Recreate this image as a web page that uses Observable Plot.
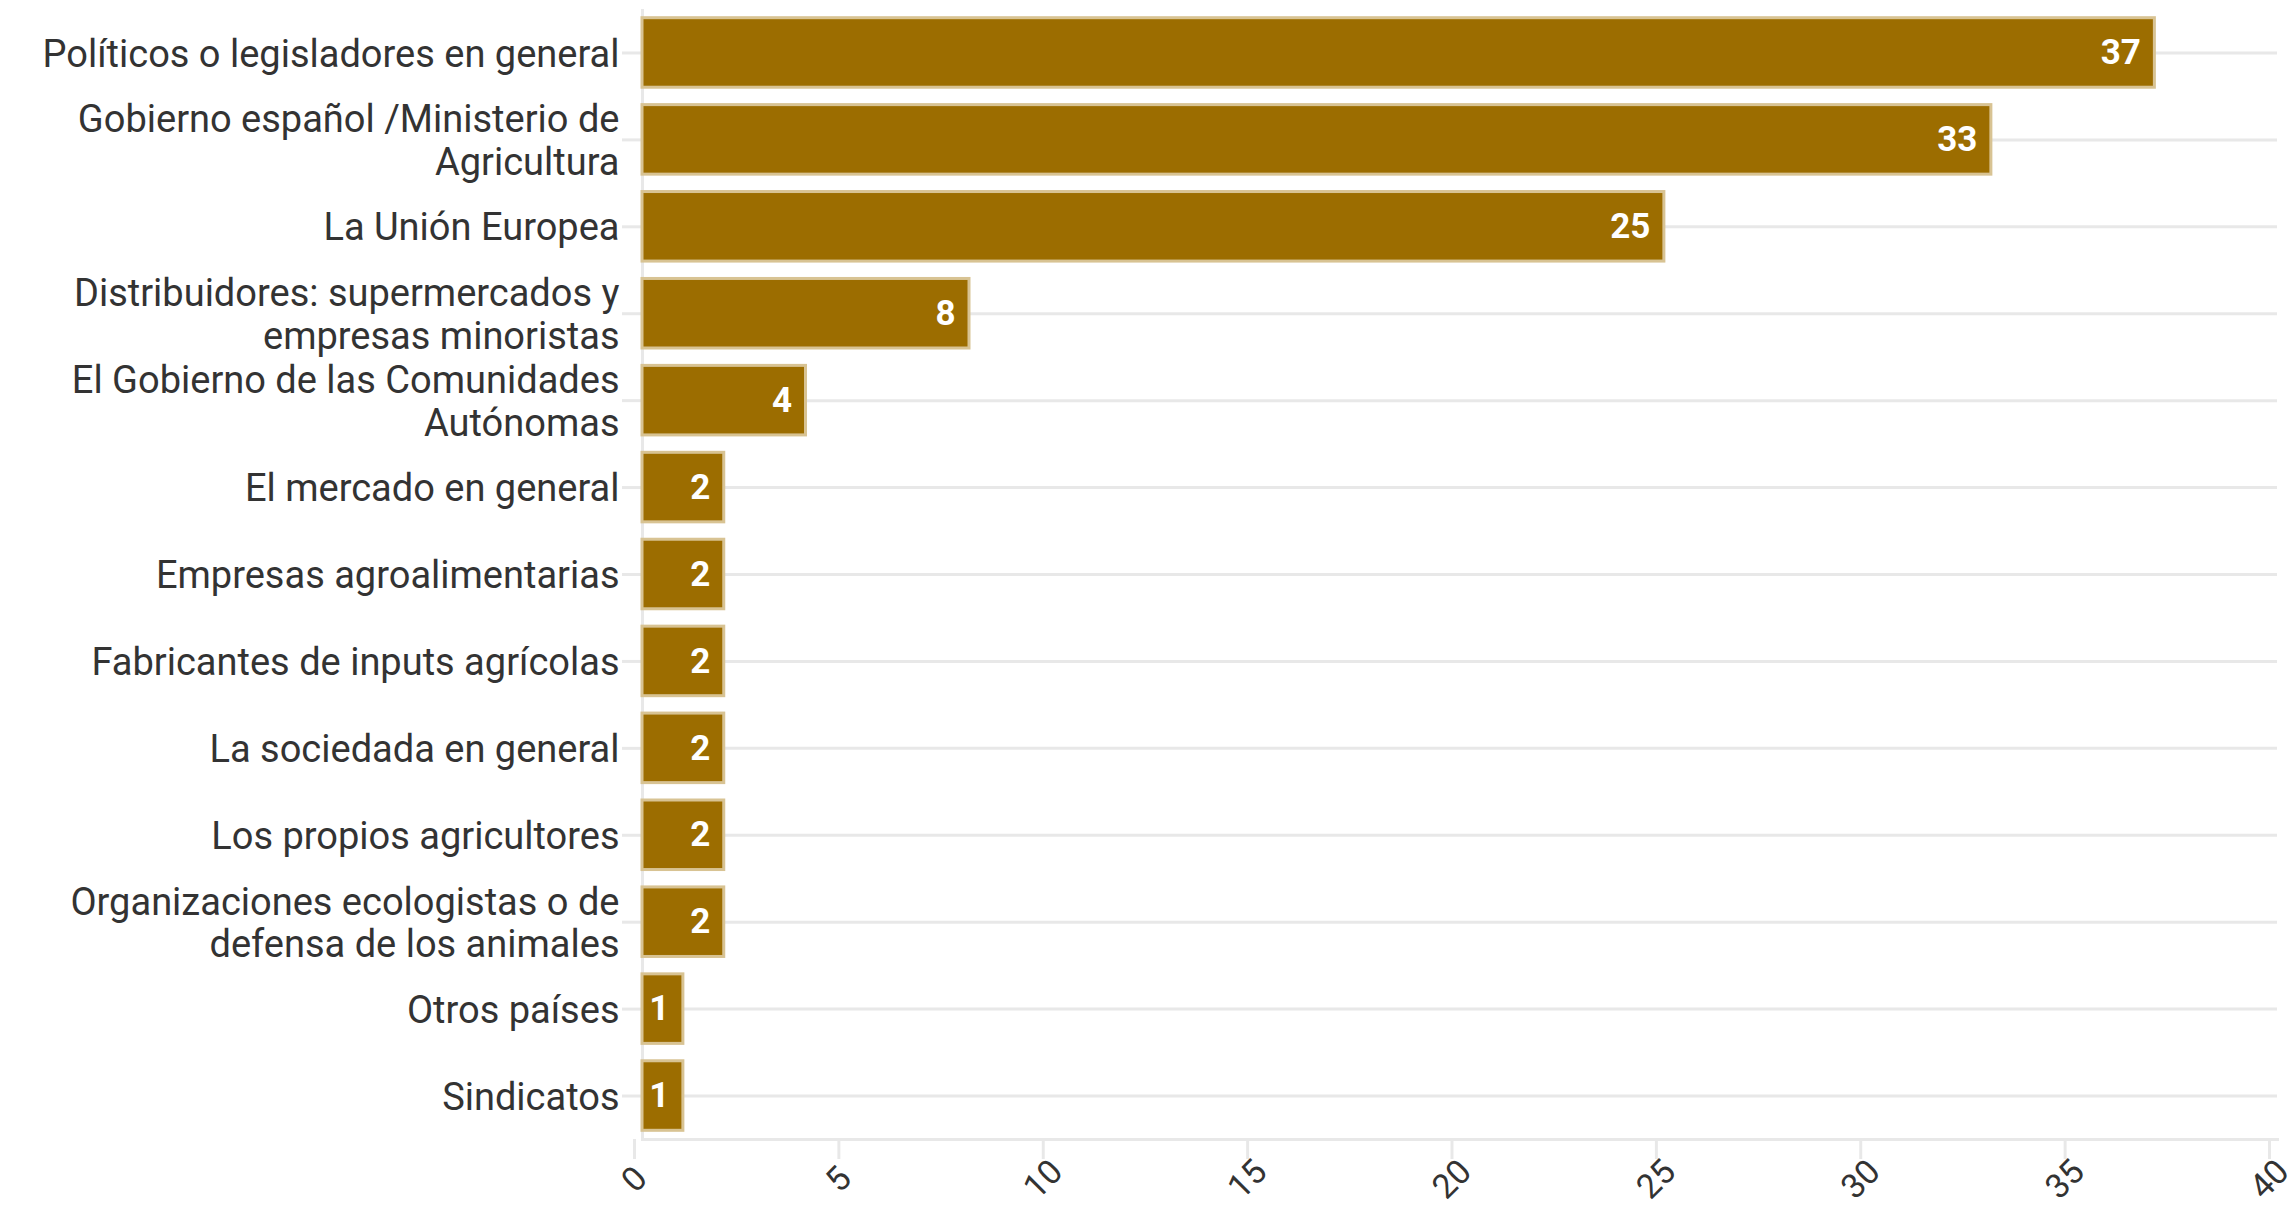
<!DOCTYPE html>
<html><head><meta charset="utf-8">
<script src="https://cdn.jsdelivr.net/npm/d3@7"></script>
<script src="https://cdn.jsdelivr.net/npm/@observablehq/plot@0.6"></script>
<style>
html,body{margin:0;padding:0;background:#fff;}
</style></head><body><div id="chart"></div>
<script>
const categories = [
  "Políticos o legisladores en general",
  "Gobierno español /Ministerio de\nAgricultura",
  "La Unión Europea",
  "Distribuidores: supermercados y\nempresas minoristas",
  "El Gobierno de las Comunidades\nAutónomas",
  "El mercado en general",
  "Empresas agroalimentarias",
  "Fabricantes de inputs agrícolas",
  "La sociedada en general",
  "Los propios agricultores",
  "Organizaciones ecologistas o de\ndefensa de los animales",
  "Otros países",
  "Sindicatos"
];
const values = [37, 33, 25, 8, 4, 2, 2, 2, 2, 2, 2, 1, 1];
const xTicks = [0, 5, 10, 15, 20, 25, 30, 35, 40];

const data = categories.map((c, i) => ({category: c, value: values[i]}));

const chart = Plot.plot({
  width: 2295,
  height: 1224,
  marginLeft: 642,
  marginRight: 18,
  marginTop: 9,
  marginBottom: 85,
  style: {fontFamily: "Roboto", fontSize: "38px", color: "#333", background: "#fff"},
  x: {domain: [0, 40], label: null},
  y: {domain: categories, paddingInner: 0.2, paddingOuter: 0.1, round: false, label: null},
  marks: [
    Plot.gridY({stroke: "#e8e8e8", strokeOpacity: 1, strokeWidth: 3}),
    Plot.ruleX([0], {stroke: "#e8e8e8", strokeWidth: 3}),
    Plot.frame({anchor: "bottom", stroke: "#e8e8e8", strokeWidth: 3}),
    Plot.axisY({tickSize: 20, tickPadding: 3, stroke: "#e8e8e8", strokeWidth: 3, strokeOpacity: 1, lineHeight: 1.12, fill: "#333", label: null}),
    Plot.axisX({ticks: xTicks, tickRotate: -45, tickSize: 20, tickPadding: 20, stroke: "#e8e8e8", strokeWidth: 3, strokeOpacity: 1, fontSize: 34, fill: "#333", textAnchor: "middle", dx: -8, label: null}),
    Plot.barX(data, {x: "value", y: "category", fill: "#9c6d00", stroke: "#d8c393", strokeWidth: 3}),
    Plot.text(data, {x: "value", y: "category", text: d => String(d.value), textAnchor: "end", dx: -14, fill: "white", fontWeight: "bold", fontSize: 35})
  ]
});
document.getElementById("chart").appendChild(chart);
</script>
</body></html>
